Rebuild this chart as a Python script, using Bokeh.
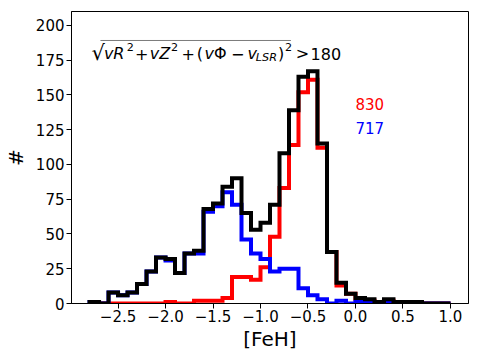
from bokeh.plotting import figure
from bokeh.models import Range1d, FixedTicker, Label, BoxAnnotation
from bokeh.embed import file_html
from bokeh.resources import INLINE

# ---- data ----
bin_edges = [-2.8, -2.7, -2.6, -2.5, -2.4, -2.3, -2.2, -2.1, -2.0, -1.9,
             -1.8, -1.7, -1.6, -1.5, -1.4, -1.3, -1.2, -1.1, -1.0, -0.9,
             -0.8, -0.7, -0.6, -0.5, -0.4, -0.3, -0.2, -0.1, 0.0, 0.1,
             0.2, 0.3, 0.4, 0.5, 0.6, 0.7, 0.8, 0.9, 1.0]
red_counts = [0, 0, 0, 0, 0, 0, 0, 0, 1, 0,
              0, 2, 2, 2, 4, 19, 19, 17, 26, 48,
              83, 114, 152, 161, 112, 37, 13, 7, 3, 2,
              1, 2, 1, 1, 1, 0, 0, 0]
blue_counts = [1, 0, 8, 6, 8, 14, 23, 33, 31, 22,
               36, 36, 66, 70, 80, 71, 46, 36, 32, 23,
               25, 25, 11, 6, 3, 0, 2, 0, 1, 1,
               0, 1, 0, 0, 0, 0, 0, 0]
total_counts = [1, 0, 8, 6, 8, 14, 23, 33, 32, 22,
                36, 38, 68, 72, 84, 90, 65, 53, 58, 71,
                108, 139, 163, 167, 115, 37, 15, 7, 4, 3,
                1, 3, 1, 1, 1, 0, 0, 0]
red_label = "830"
blue_label = "717"
x_ticks = [-2.5, -2.0, -1.5, -1.0, -0.5, 0.0, 0.5, 1.0]
x_tick_labels = ["\u22122.5", "\u22122.0", "\u22121.5", "\u22121.0", "\u22120.5", "0.0", "0.5", "1.0"]
y_ticks = [0, 25, 50, 75, 100, 125, 150, 175, 200]
x_label = "[FeH]"
y_label = "#"


def outline(edges, counts):
    xs = [edges[0]]
    ys = [0]
    for i, c in enumerate(counts):
        xs += [edges[i], edges[i + 1]]
        ys += [c, c]
    xs.append(edges[-1])
    ys.append(0)
    return xs, ys


FONT = "DejaVu Sans"

p = figure(width=479, height=363, output_backend="svg", toolbar_location=None,
           x_range=Range1d(-2.99, 1.19), y_range=Range1d(0, 210),
           min_border_left=68, min_border_right=11, min_border_top=11,
           min_border_bottom=60)
p.background_fill_color = "white"
p.border_fill_color = "white"
p.grid.visible = False
p.outline_line_color = "black"
p.outline_line_width = 1

for color, counts in (("#ff0000", red_counts), ("#0000ff", blue_counts), ("black", total_counts)):
    xs, ys = outline(bin_edges, counts)
    p.line(xs, ys, line_color=color, line_width=4, line_join="miter")

p.xaxis.ticker = FixedTicker(ticks=x_ticks)
p.xaxis.major_label_overrides = {t: l for t, l in zip(x_ticks, x_tick_labels)}
p.yaxis.ticker = FixedTicker(ticks=y_ticks)
for ax in (p.xaxis, p.yaxis):
    ax.minor_tick_line_color = None
    ax.major_tick_out = 5
    ax.major_tick_in = 0
    ax.axis_line_color = "black"
    ax.major_tick_line_color = "black"
    ax.major_label_text_font = FONT
    ax.major_label_text_font_size = "15px"
    ax.major_label_text_color = "black"
    ax.axis_label_text_font = FONT
    ax.axis_label_text_font_size = "20px"
    ax.axis_label_text_font_style = "normal"
    ax.axis_label_text_color = "black"
p.xaxis.major_label_standoff = 1
p.yaxis.major_label_standoff = 2
p.xaxis.axis_label = x_label
p.xaxis.axis_label_standoff = 2
p.yaxis.axis_label = y_label
p.yaxis.axis_label_standoff = 5

DY = 3.6  # baseline correction for label rendering

p.add_layout(Label(x=0.0, y=140.1 + DY, text=red_label, text_color="#ff0000",
                   text_font=FONT, text_font_size="15px", text_baseline="alphabetic"))
p.add_layout(Label(x=0.0, y=122.5 + DY, text=blue_label, text_color="#0000ff",
                   text_font=FONT, text_font_size="15px", text_baseline="alphabetic"))

# formula annotation: sqrt(vR^2 + vZ^2 + (vPhi - v_LSR)^2) > 180
base_y = 176.0
sup_y = 180.8
sub_y = 173.6
pieces = [
    ("\u221a", -2.78, 176.8, "21px", "normal"),
    ("vR", -2.649, base_y, "16px", "italic"),
    ("2", -2.409, sup_y, "11.2px", "normal"),
    ("+", -2.322, base_y, "16px", "normal"),
    ("vZ", -2.166, base_y, "16px", "italic"),
    ("2", -1.942, sup_y, "11.2px", "normal"),
    ("+", -1.833, base_y, "16px", "normal"),
    ("(", -1.670, base_y, "16px", "normal"),
    ("v", -1.590, base_y, "16px", "italic"),
    ("\u03a6", -1.490, base_y, "16px", "normal"),
    ("\u2212", -1.310, base_y, "16px", "normal"),
    ("v", -1.136, base_y, "16px", "italic"),
    ("LSR", -1.049, sub_y, "11.2px", "italic"),
    (")", -0.815, base_y, "16px", "normal"),
    ("2", -0.741, sup_y, "11.2px", "normal"),
    (">", -0.629, base_y, "16px", "normal"),
    ("180", -0.473, base_y, "16px", "normal"),
]
for txt, x, y, size, style in pieces:
    p.add_layout(Label(x=x, y=y + DY, text=txt, text_font=FONT, text_font_size=size,
                       text_font_style=style, text_color="black",
                       text_baseline="alphabetic"))
p.add_layout(BoxAnnotation(left=-2.685, right=-0.68, bottom=189.15, top=189.15,
                           fill_alpha=0, line_color="black", line_width=1))

open("out.html", "w").write(file_html(p, INLINE))
